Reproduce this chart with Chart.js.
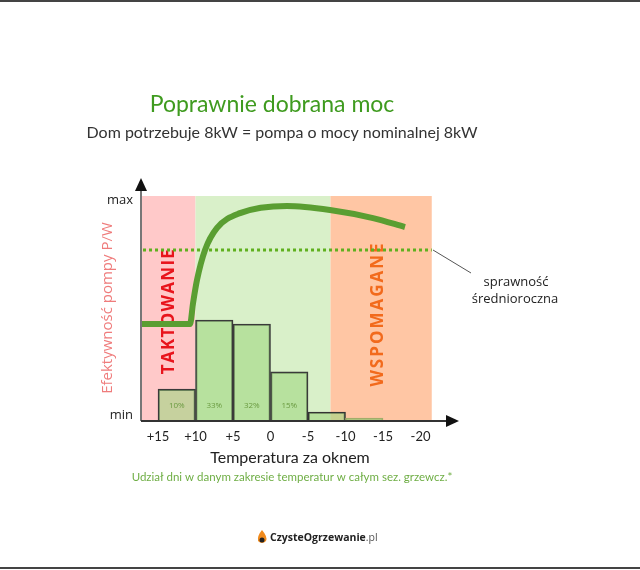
<!DOCTYPE html>
<html>
<head>
<meta charset="utf-8">
<script src="https://cdn.jsdelivr.net/npm/chart.js@4.4.1/dist/chart.umd.min.js"></script>
<style>
  html, body { margin: 0; padding: 0; background: #fff; }
  #wrap { width: 640px; height: 570px; position: relative; }
</style>
</head>
<body>
<div id="wrap"><canvas id="chart" width="640" height="570"></canvas></div>
<script>
// dane
const tickValues = [15, 10, 5, 0, -5, -10, -15, -20];
const tickLabels = ['+15', '+10', '+5', '0', '-5', '-10', '-15', '-20'];
const binCenters = [12.5, 7.5, 2.5, -2.5, -7.5, -12.5];
const shareValues = [14.2, 44.9, 43.1, 21.8, 4.0, 1.3];
const shareLabels = ['10%', '33%', '32%', '15%', '', ''];
const curveTemp = [17.27, 10.73, 10.33, 9.8, 8.73, 7.13, 4.07, -2.2, -7.93, -13.67, -17.93];
const curveEff = [43.1, 43.1, 52.4, 62.7, 76, 85.8, 92.4, 95.6, 93.8, 90.2, 86.2];
const avgTemp = [17.0, -21.5];
const avgEff = [76, 76];
const zoneEdges = [17.27, 10, -8, -21.5];

const FONT = '"Open Sans", sans-serif';
const FONT2 = 'Lato, sans-serif';

// Tło stref, osie, strzałki i opisy
const decor = {
  id: 'decor',
  beforeDatasetsDraw(chart) {
    const ctx = chart.ctx;
    const x = chart.scales.x, y = chart.scales.y;
    const top = y.getPixelForValue(100), bot = y.getPixelForValue(0);
    const zoneColors = ['#ffc9c9', '#d9f0c9', '#ffc6a4'];
    ctx.save();
    for (let i = 0; i < 3; i++) {
      const a = x.getPixelForValue(zoneEdges[i]);
      const b = x.getPixelForValue(zoneEdges[i + 1]);
      ctx.fillStyle = zoneColors[i];
      ctx.fillRect(a, top, b - a, bot - top);
    }
    // napisy stref
    ctx.font = 'bold 17px ' + FONT;
    ctx.textAlign = 'center';
    ctx.textBaseline = 'middle';
    ctx.save();
    ctx.letterSpacing = '1.3px';
    ctx.translate(169, 311);
    ctx.rotate(-Math.PI / 2);
    ctx.fillStyle = '#e8141c';
    ctx.fillText('TAKTOWANIE', 0, 0);
    ctx.restore();
    ctx.save();
    ctx.letterSpacing = '2px';
    ctx.translate(378, 314);
    ctx.rotate(-Math.PI / 2);
    ctx.fillStyle = '#f26a1c';
    ctx.fillText('WSPOMAGANE', 0, 0);
    ctx.restore();
    ctx.restore();
  },
  afterDatasetsDraw(chart) {
    const ctx = chart.ctx;
    const x = chart.scales.x, y = chart.scales.y;
    const left = chart.chartArea.left, bot = y.getPixelForValue(0);
    ctx.save();
    // osie
    ctx.strokeStyle = '#777';
    ctx.lineWidth = 2;
    ctx.beginPath();
    ctx.moveTo(left, bot);
    ctx.lineTo(left, 186);
    ctx.stroke();
    ctx.strokeStyle = '#333';
    ctx.beginPath();
    ctx.moveTo(left, bot);
    ctx.lineTo(448, bot);
    ctx.stroke();
    ctx.fillStyle = '#111';
    ctx.beginPath();
    ctx.moveTo(left, 178); ctx.lineTo(left - 6, 191); ctx.lineTo(left + 6, 191);
    ctx.closePath(); ctx.fill();
    ctx.beginPath();
    ctx.moveTo(459, bot); ctx.lineTo(446, bot - 6); ctx.lineTo(446, bot + 6);
    ctx.closePath(); ctx.fill();

    // etykiety osi
    ctx.fillStyle = '#222';
    ctx.font = '13px ' + FONT;
    ctx.textAlign = 'right';
    ctx.textBaseline = 'middle';
    ctx.fillText('max', 133, 200);
    ctx.fillText('min', 133, 415);
    ctx.textAlign = 'center';
    ctx.font = '13px ' + FONT2;
    tickValues.forEach((v, i) => {
      ctx.fillText(tickLabels[i], x.getPixelForValue(v), 437);
    });

    // procenty w słupkach
    ctx.font = '8px ' + FONT;
    ctx.fillStyle = '#6a9a40';
    binCenters.forEach((v, i) => {
      if (shareLabels[i]) ctx.fillText(shareLabels[i], x.getPixelForValue(v), 406);
    });

    // tytuły
    ctx.font = '23px ' + FONT2;
    ctx.fillStyle = '#3f9b1f';
    ctx.fillText('Poprawnie dobrana moc', 272, 105);
    ctx.font = '16px ' + FONT2;
    ctx.fillStyle = '#333';
    ctx.fillText('Dom potrzebuje 8kW = pompa o mocy nominalnej 8kW', 282, 133);

    ctx.font = '16px ' + FONT2;
    ctx.fillStyle = '#222';
    ctx.fillText('Temperatura za oknem', 290, 458);
    ctx.font = '11.5px ' + FONT2;
    ctx.fillStyle = '#6fae45';
    ctx.fillText('Udział dni w danym zakresie temperatur w całym sez. grzewcz.*', 292, 477);

    // tytuł osi Y
    ctx.save();
    ctx.translate(108, 308);
    ctx.rotate(-Math.PI / 2);
    ctx.font = '15px ' + FONT;
    ctx.fillStyle = '#ef7c7c';
    ctx.fillText('Efektywność pompy P/W', 0, 0);
    ctx.restore();

    // odnośnik
    const ay = y.getPixelForValue(avgEff[0]);
    ctx.strokeStyle = '#555';
    ctx.lineWidth = 1;
    ctx.beginPath();
    ctx.moveTo(433, ay);
    ctx.lineTo(471, ay + 23);
    ctx.stroke();
    ctx.font = '13px ' + FONT;
    ctx.fillStyle = '#222';
    ctx.fillText('sprawność', 516, 282);
    ctx.fillText('średnioroczna', 515, 299);

    // logo
    ctx.fillStyle = '#f08a1c';
    ctx.beginPath();
    ctx.moveTo(262, 530);
    ctx.quadraticCurveTo(268, 537, 266, 541);
    ctx.quadraticCurveTo(262, 545, 258, 541);
    ctx.quadraticCurveTo(257, 536, 262, 530);
    ctx.fill();
    ctx.fillStyle = '#222';
    ctx.beginPath();
    ctx.arc(262, 540, 2.5, 0, Math.PI * 2);
    ctx.fill();
    ctx.textAlign = 'left';
    ctx.font = 'bold 10.5px ' + FONT;
    ctx.fillStyle = '#222';
    const brand = 'CzysteOgrzewanie';
    ctx.fillText(brand, 270, 538);
    const w = ctx.measureText(brand).width;
    ctx.font = '10.5px ' + FONT;
    ctx.fillStyle = '#555';
    ctx.fillText('.pl', 270 + w, 538);

    // ramka
    ctx.fillStyle = '#444';
    ctx.fillRect(0, 0, 640, 2);
    ctx.fillRect(0, 567, 640, 2);
    ctx.restore();
  }
};

const barBorders = ['#3a3a3a', '#3a3a3a', '#3a3a3a', '#3a3a3a', '#333', '#a2ad6a'];

new Chart(document.getElementById('chart'), {
  data: {
    datasets: [
      {
        type: 'line',
        label: 'sprawność',
        data: curveTemp.map((t, i) => ({ x: t, y: curveEff[i] })),
        borderColor: '#5a9e32',
        borderWidth: 6,
        pointRadius: 0,
        cubicInterpolationMode: 'monotone',
        order: 1
      },
      {
        type: 'line',
        label: 'sprawność średnioroczna',
        data: avgTemp.map((t, i) => ({ x: t, y: avgEff[i] })),
        borderColor: '#5fb01e',
        borderWidth: 3,
        borderDash: [3, 3],
        pointRadius: 0,
        order: 2
      },
      {
        type: 'bar',
        label: 'udział dni',
        data: binCenters.map((t, i) => ({ x: t, y: shareValues[i] })),
        backgroundColor: 'rgba(160, 215, 130, 0.6)',
        borderColor: barBorders,
        borderWidth: 1.5,
        borderSkipped: 'bottom',
        barPercentage: 1,
        categoryPercentage: 1,
        order: 3
      }
    ]
  },
  options: {
    responsive: false,
    animation: false,
    layout: { padding: { left: 141, right: 185, top: 196, bottom: 149 } },
    scales: {
      x: { type: 'linear', reverse: true, min: -24.6, max: 17.27, offset: false, display: false },
      y: { min: 0, max: 100, display: false }
    },
    plugins: {
      legend: { display: false },
      tooltip: { enabled: false }
    }
  },
  plugins: [decor]
});
</script>
</body>
</html>
